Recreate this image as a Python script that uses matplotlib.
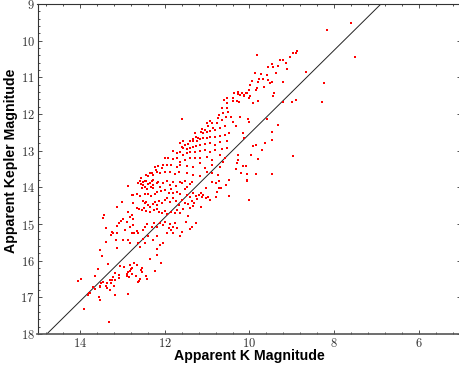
import matplotlib
matplotlib.use("Agg")
import matplotlib.pyplot as plt
from matplotlib.ticker import MultipleLocator, FuncFormatter

plt.rcParams['mathtext.fontset'] = 'cm'

# Apparent K magnitude / apparent Kepler magnitude of each star
k_mag = [
    # faint end
    13.49, 13.34, 13.57, 13.65, 13.69, 13.65, 13.76, 13.55, 13.53, 13.50, 13.45, 13.53, 13.53, 13.38, 13.37,
    13.35, 13.29, 13.24, 13.18, 13.26, 13.29, 13.20, 13.18, 13.23, 13.17, 13.08, 13.08, 13.05, 12.97, 12.83,
    12.90, 12.86, 12.82, 12.79, 12.76, 12.88, 12.85, 12.78, 12.73, 12.65, 12.68, 12.58, 12.61, 12.63, 12.54,
    12.53, 12.56, 12.45, 12.41, 12.35, 12.23, 12.19, 12.09, 12.87, 13.32, 14.05, 13.97, 13.90, 13.79, 13.81,
    # Kp 13.8 - 15.7
    12.86, 12.58, 12.50, 12.43, 12.35, 12.29, 12.39, 12.50, 12.56, 12.27, 12.32, 12.47, 12.54, 12.41, 12.27,
    12.19, 12.15, 12.11, 12.03, 11.95, 11.88, 11.80, 11.73, 11.65, 11.60, 11.52, 11.48, 11.40, 11.36, 12.74,
    12.78, 12.66, 12.58, 12.47, 12.39, 12.32, 12.23, 12.19, 12.09, 11.99, 11.91, 11.84, 11.80, 11.70, 11.64,
    11.52, 11.47, 11.40, 11.33, 11.25, 11.19, 12.50, 12.47, 12.43, 12.39, 12.35, 12.28, 12.23, 12.19, 12.13,
    12.07, 11.99, 11.94, 11.88, 11.80, 11.73, 11.67, 11.60, 11.52, 11.44, 11.36, 11.31, 11.23, 12.74, 12.66,
    12.60, 12.54, 12.49, 12.43, 12.35, 12.25, 12.19, 12.13, 12.06, 11.99, 11.94, 11.84, 11.76, 11.72, 11.64,
    11.56, 11.40, 11.33, 13.01, 13.12, 12.87, 12.83, 12.78, 12.74, 12.88, 12.98, 13.04, 13.07, 13.13, 13.43,
    13.46, 13.38, 13.25, 13.26, 13.21, 13.12, 12.94, 12.83, 12.74, 12.78, 12.72, 12.66, 12.62, 12.52, 12.47,
    12.41, 12.31, 12.25, 12.19, 12.10, 12.05, 11.99, 11.91, 11.88, 11.81, 11.76, 11.70, 11.60, 11.50, 11.44,
    11.36, 11.25, 12.98, 13.15, 13.39, 13.53, 13.12, 12.86, 12.82, 12.58, 12.50, 12.39, 12.27, 12.19, 12.11,
    12.19, 12.03, 11.95, 11.84, 11.80, 11.64, 11.40, 12.62, 12.47,
    # Kp 11.8 - 13.7
    11.60, 10.66, 10.52, 10.50, 10.62, 10.71, 10.74, 10.66, 10.56, 10.93, 11.01, 10.89, 10.77, 10.97, 10.85,
    11.05, 11.13, 11.15, 11.09, 11.01, 10.93, 10.82, 10.70, 10.58, 11.29, 11.25, 11.21, 11.33, 11.40, 11.33,
    11.23, 11.17, 11.09, 11.01, 10.92, 10.81, 10.70, 10.58, 10.48, 11.56, 11.64, 11.60, 11.52, 11.44, 11.40,
    11.48, 11.56, 11.33, 11.25, 11.17, 11.05, 10.93, 10.82, 10.70, 10.54, 11.80, 11.72, 11.64, 11.56, 11.48,
    11.40, 11.29, 11.17, 11.05, 10.93, 10.82, 10.66, 10.52, 11.99, 11.92, 11.80, 11.72, 11.64, 11.52, 11.40,
    11.29, 11.17, 11.01, 10.89, 10.70, 10.58, 12.23, 12.15, 12.07, 12.03, 11.95, 11.84, 11.72, 11.64, 11.48,
    11.33, 11.17, 11.05, 10.89, 10.70, 10.62, 12.43, 12.35, 12.27, 12.19, 12.11, 11.99, 11.88, 11.76, 11.66,
    11.48, 11.33, 11.17, 11.01, 10.89, 10.74, 12.62, 12.57, 12.46, 12.39, 12.31, 12.27, 12.20,
    # right of the line, Kp 13.8 - 14.6
    10.89, 10.71, 10.48, 10.07, 10.79, 10.55, 11.03, 10.73, 10.67, 10.77, 11.15, 11.10, 11.13, 11.03, 10.99,
    10.93, 10.80, 10.48, 10.01, 11.15,
    # bright end
    9.83, 8.87, 8.90, 8.97, 9.04, 9.20, 9.28, 9.14, 9.33, 9.44, 9.57, 9.48, 9.37, 9.11, 9.22,
    8.67, 9.87, 9.73, 9.59, 9.56, 9.67, 9.77, 9.79, 9.52, 9.48, 9.93, 9.99, 9.83, 9.85, 9.66,
    10.00, 10.07, 10.18, 10.22, 10.12, 10.08, 10.26, 10.26, 10.36, 10.38, 10.30, 10.38, 10.52, 10.60, 10.54,
    10.24, 10.14, 10.00, 9.91, 9.79, 9.99, 9.42, 9.45, 9.20, 9.00, 8.91,
    # outliers and right strip
    7.61, 8.17, 7.51, 8.24, 8.30, 8.98, 9.33, 9.46, 9.46, 9.63, 9.71, 9.70, 9.59, 9.85, 9.91,
    9.96, 9.79, 9.46, 9.85, 10.05, 10.21, 10.07, 10.15, 10.08, 10.26, 10.26, 10.29, 10.32, 10.13, 10.15,
    10.03, 10.00, 10.22, 10.38, 10.32, 10.44,
]
kp_mag = [
    15.88, 16.09, 16.23, 16.41, 16.73, 16.76, 16.87, 16.99, 17.06, 16.60, 16.57, 16.68, 16.72, 16.69, 16.74,
    16.60, 16.53, 16.52, 16.53, 16.60, 16.79, 16.68, 16.93, 16.44, 16.34, 16.40, 16.47, 16.15, 16.18, 16.13,
    16.35, 16.30, 16.27, 16.22, 16.20, 16.43, 16.45, 16.36, 16.06, 16.12, 16.41, 16.50, 16.56, 16.57, 16.21,
    16.30, 16.25, 16.41, 16.50, 15.95, 16.27, 15.84, 16.05, 16.92, 17.67, 16.55, 16.51, 17.32, 16.89, 16.94,
    13.97, 13.82, 13.85, 13.82, 13.87, 13.83, 13.91, 13.94, 13.91, 13.95, 13.98, 14.00, 14.03, 14.05, 14.03,
    13.89, 13.85, 13.98, 13.87, 13.82, 13.94, 13.85, 13.96, 13.85, 13.89, 13.83, 13.98, 13.91, 13.85, 14.21,
    14.21, 14.19, 14.24, 14.19, 14.18, 14.23, 14.18, 14.12, 14.10, 14.07, 14.15, 14.05, 14.16, 14.12, 14.18,
    14.05, 14.21, 14.27, 14.16, 14.24, 14.21, 14.36, 14.44, 14.39, 14.48, 14.53, 14.45, 14.40, 14.48, 14.36,
    14.44, 14.35, 14.30, 14.39, 14.30, 14.37, 14.48, 14.35, 14.42, 14.45, 14.36, 14.44, 14.33, 14.44, 14.55,
    14.58, 14.62, 14.57, 14.64, 14.66, 14.62, 14.60, 14.66, 14.71, 14.64, 14.74, 14.66, 14.69, 14.62, 14.71,
    14.60, 14.57, 14.51, 14.40, 14.53, 14.67, 14.80, 14.75, 14.85, 14.94, 14.87, 14.91, 14.96, 15.06, 14.75,
    14.83, 15.10, 15.21, 15.30, 15.25, 15.25, 15.16, 15.07, 15.03, 15.24, 15.24, 15.18, 15.25, 15.15, 15.07,
    15.01, 15.07, 14.98, 15.07, 14.96, 15.03, 14.94, 15.12, 15.00, 15.07, 14.98, 15.12, 15.21, 14.94, 14.78,
    15.07, 14.98, 15.45, 15.44, 15.49, 15.71, 15.65, 15.44, 15.53, 15.62, 15.42, 15.33, 15.45, 15.33, 15.57,
    15.69, 15.53, 15.25, 15.16, 15.25, 15.33, 15.14, 15.51, 15.53,
    12.14, 11.83, 11.83, 11.95, 11.98, 12.04, 12.12, 12.16, 12.07, 12.19, 12.25, 12.25, 12.25, 12.34, 12.37,
    12.44, 12.41, 12.48, 12.53, 12.50, 12.46, 12.44, 12.39, 12.34, 12.53, 12.62, 12.66, 12.68, 12.74, 12.75,
    12.74, 12.68, 12.66, 12.65, 12.62, 12.62, 12.59, 12.57, 12.53, 12.75, 12.80, 12.89, 12.84, 12.83, 12.92,
    12.95, 12.94, 12.89, 12.86, 12.84, 12.83, 12.80, 12.84, 12.77, 12.74, 13.01, 13.07, 13.04, 13.12, 13.07,
    13.03, 13.03, 13.01, 12.98, 13.03, 12.98, 12.95, 12.92, 13.19, 13.21, 13.23, 13.19, 13.30, 13.25, 13.21,
    13.19, 13.21, 13.16, 13.25, 13.12, 13.21, 13.44, 13.41, 13.46, 13.39, 13.39, 13.39, 13.44, 13.39, 13.41,
    13.44, 13.34, 13.48, 13.39, 13.44, 13.30, 13.66, 13.62, 13.66, 13.57, 13.62, 13.59, 13.57, 13.64, 13.57,
    13.62, 13.66, 13.68, 13.57, 13.62, 13.66, 13.87, 13.75, 13.82, 13.69, 13.62, 13.80, 13.53,
    13.86, 13.82, 13.80, 13.82, 13.89, 13.94, 14.03, 14.03, 14.03, 14.12, 14.16, 14.21, 14.25, 14.30, 14.25,
    14.35, 14.25, 14.24, 14.35, 14.53,
    10.38, 10.28, 10.35, 10.33, 10.44, 10.53, 10.53, 10.62, 10.69, 10.73, 10.71, 10.64, 10.87, 10.77, 11.12,
    10.86, 10.89, 10.92, 10.94, 11.07, 11.05, 11.05, 11.12, 11.15, 11.12, 11.10, 11.21, 11.30, 11.35, 11.25,
    11.35, 11.42, 11.42, 11.48, 11.48, 11.44, 11.39, 11.45, 11.44, 11.55, 11.64, 11.64, 11.57, 11.62, 11.69,
    11.67, 11.51, 11.57, 11.69, 11.65, 11.51, 11.42, 11.51, 11.66, 11.66, 11.62,
    9.53, 9.71, 10.44, 11.15, 11.68, 13.14, 12.30, 12.48, 12.71, 12.80, 12.97, 12.99, 12.14, 12.84, 12.86,
    13.12, 13.23, 13.64, 13.64, 13.64, 13.62, 13.80, 13.41, 13.41, 13.12, 13.25, 13.34, 13.51, 12.66, 12.51,
    12.14, 12.22, 12.07, 12.21, 12.33, 12.07,
]

# reference relation drawn as a straight line
line_k = [14.78, 6.90]
line_kp = [18.0, 9.0]

x_ticks = [14, 12, 10, 8, 6]
y_ticks = [9, 10, 11, 12, 13, 14, 15, 16, 17, 18]

fig = plt.figure(figsize=(4.59, 3.70), dpi=100)
ax = fig.add_axes([37.5 / 459, 36 / 370, 424 / 459, 330 / 370])

ax.plot(line_k, line_kp, color='#222222', lw=0.7, zorder=2)
ax.plot(k_mag, kp_mag, linestyle='none', marker='s', ms=1.8, mew=0,
        color='#ff0000', zorder=3)

ax.set_xlim(15, 5)
ax.set_ylim(18, 9)
ax.set_xticks(x_ticks)
ax.set_yticks(y_ticks)
ax.xaxis.set_minor_locator(MultipleLocator(0.4))
ax.yaxis.set_minor_locator(MultipleLocator(0.2))
fmt = FuncFormatter(lambda v, p: r'$%d$' % round(v))
ax.xaxis.set_major_formatter(fmt)
ax.yaxis.set_major_formatter(fmt)

ax.tick_params(which='both', direction='in', top=True, right=True,
               color='#333333', width=0.6, labelsize=9, labelcolor='#333333', pad=2)
ax.tick_params(which='major', length=3.0)
ax.tick_params(which='minor', length=1.6)
for side in ['left', 'top', 'right']:
    ax.spines[side].set_linewidth(0.8)
    ax.spines[side].set_color('#333333')
ax.spines['bottom'].set_linewidth(1.2)
ax.spines['bottom'].set_color('#555555')

fig.text(249.5 / 459, 1 - 356 / 370, 'Apparent K Magnitude', ha='center', va='center',
         fontsize=10.2, fontweight='bold', family=['Liberation Sans', 'DejaVu Sans'])
fig.text(11 / 459, 1 - 161 / 370, 'Apparent Kepler Magnitude', ha='center', va='center',
         rotation=90, fontsize=10.2, fontweight='bold', family=['Liberation Sans', 'DejaVu Sans'])

fig.savefig('out.png', dpi=100)
